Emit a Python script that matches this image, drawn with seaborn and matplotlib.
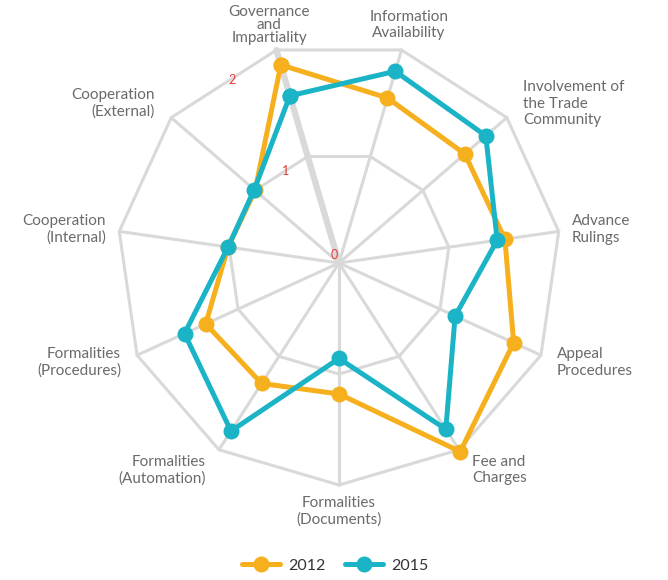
import matplotlib.pyplot as plt
import numpy as np
import pandas as pd
import seaborn as sns

categories = ["Governance\nand\nImpartiality", "Information\nAvailability",
              "Involvement of\nthe Trade\nCommunity", "Advance\nRulings",
              "Appeal\nProcedures", "Fee and\nCharges", "Formalities\n(Documents)",
              "Formalities\n(Automation)", "Formalities\n(Procedures)",
              "Cooperation\n(Internal)", "Cooperation\n(External)"]
years = ["2012", "2015"]
values_2012 = [1.86, 1.55, 1.50, 1.51, 1.73, 2.02, 1.18, 1.29, 1.32, 1.01, 1.00]
values_2015 = [1.57, 1.80, 1.75, 1.44, 1.15, 1.78, 0.86, 1.80, 1.53, 1.01, 1.01]
r_ticks = [0, 1, 2]

colors = {"2012": "#F6B01E", "2015": "#1AB4C6"}
grid_c = "#d9d9d9"

sns.set_style("white")
plt.rcParams["font.family"] = ["Lato", "DejaVu Sans"]

n = len(categories)
angles = [2 * np.pi * k / n for k in range(n)]

# long table, each series closed back on its first point
rows = []
for year, vals in zip(years, [values_2012, values_2015]):
    for a, v in zip(angles + [angles[0] + 2 * np.pi], vals + [vals[0]]):
        rows.append({"angle": a, "score": v, "year": year})
df = pd.DataFrame(rows)

fig = plt.figure(figsize=(6.68, 5.80), dpi=100)
ax = fig.add_axes([117 / 668, 95 / 580, 444 / 668, 444 / 580], projection="polar")
ax.set_theta_direction(-1)
ax.set_theta_offset(np.pi / 2 + np.pi / n)
ax.set_ylim(0, max(r_ticks))
ax.spines["polar"].set_visible(False)
ax.grid(False)
ax.set_xticks([])
ax.set_yticks([])

# polygon grid + spokes
for lv in r_ticks[1:]:
    ax.plot(angles + [angles[0]], [lv] * (n + 1), color=grid_c, lw=2.2, zorder=1)
for a in angles:
    ax.plot([a, a], [0, max(r_ticks)], color=grid_c, lw=2.2, zorder=1)
ax.plot([angles[0], angles[0]], [0, max(r_ticks)], color=grid_c, lw=4.5, zorder=1)

sns.lineplot(data=df, x="angle", y="score", hue="year", palette=colors,
             sort=False, estimator=None, marker="o", markersize=11.5,
             markeredgewidth=0, lw=3.6, ax=ax, zorder=3)
for ln in ax.lines:
    ln.set_clip_on(False)

ax.set_xlabel("")
ax.set_ylabel("")

for a, lab in zip(angles, categories):
    vis = a - np.pi / n  # angle on screen, clockwise from the top
    s = np.sin(vis)
    ha = "left" if s > 0.3 else ("right" if s < -0.3 else "center")
    r = 2.1 + 0.14 * abs(np.cos(vis))
    ax.text(a, r, lab, ha=ha, va="center", fontsize=11, color="#6a6a6a",
            linespacing=0.95 if lab.startswith("Gov") else 1.2)

# radial scale labels, just left of the first spoke
for t, rr in zip(r_ticks, [0.08, 0.96, 1.91]):
    ax.text(np.deg2rad(-14), rr, str(t), ha="center", va="center",
            fontsize=9, color="#e53935")

sns.move_legend(ax, "center", bbox_to_anchor=(335 / 668, 1 - 566 / 580),
                bbox_transform=fig.transFigure, ncol=2, frameon=False, title=None,
                fontsize=11.5, handlelength=2.4, columnspacing=1.2, handletextpad=0.5)
for t in ax.get_legend().get_texts():
    t.set_color("#333333")

fig.savefig("out.png", dpi=100)
